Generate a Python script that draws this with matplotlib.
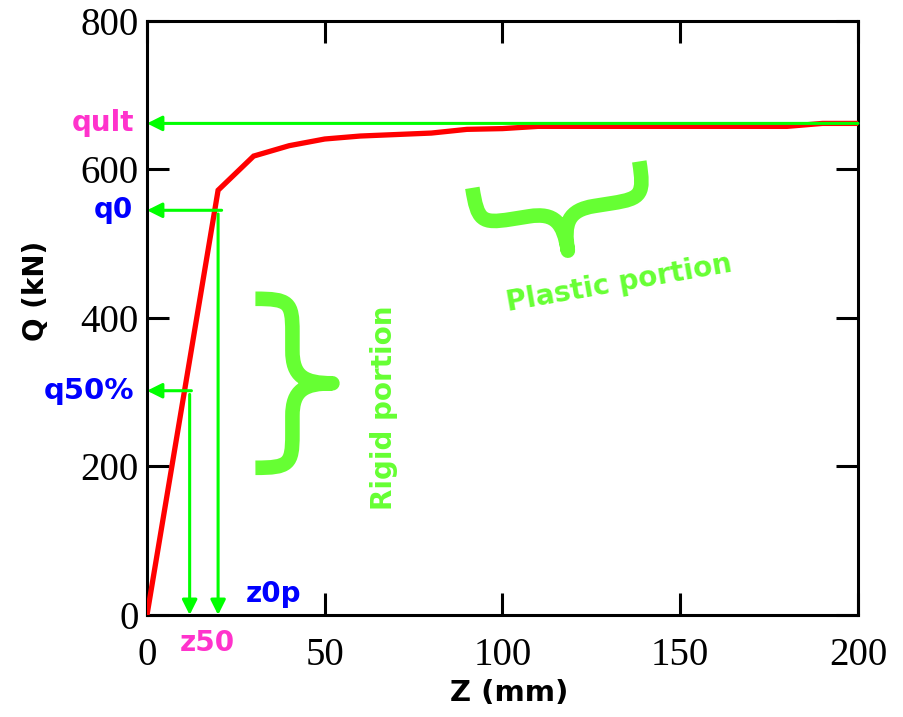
import matplotlib
matplotlib.use('Agg')
import matplotlib.pyplot as plt
from matplotlib.path import Path
from matplotlib.patches import PathPatch
from matplotlib.transforms import Affine2D, ScaledTranslation, blended_transform_factory

# ---- data ----
z_mm = [0, 20, 30, 40, 50, 60, 70, 80, 90, 100, 110, 120, 130, 140, 150, 160, 170, 180, 190, 200]
q_kn = [0, 572, 618, 632, 641, 645, 647, 649, 654, 655, 658, 658, 658, 658, 658, 658, 658, 658, 662, 662]
x_ticks = [0, 50, 100, 150, 200]
y_ticks = [0, 200, 400, 600, 800]
q_ult = 662
q_0 = 545
q_50 = 302
z_50 = 12
z_0p = 20

RED = '#FF0000'
ARROW_GREEN = '#00FF00'
TEXT_GREEN = '#66FF33'
MAGENTA = '#FF33CC'
BLUE = '#0000FF'

fig = plt.figure(figsize=(9.04, 7.17), dpi=100)
ax = fig.add_axes([0.1626, 0.1423, 0.7865, 0.8285])
ax.set_xlim(0, 200)
ax.set_ylim(0, 800)

ax.plot(z_mm, q_kn, color=RED, lw=3.8, zorder=3, solid_joinstyle='miter')

arrow_kw = dict(arrowstyle='-|>,head_length=0.9,head_width=0.45', color=ARROW_GREEN,
                lw=2.2, shrinkA=0, shrinkB=0)
# horizontal arrows to the Q axis
ax.annotate('', xy=(0, q_ult), xytext=(200, q_ult), arrowprops=arrow_kw, zorder=4,
            annotation_clip=False)
ax.annotate('', xy=(0, q_0), xytext=(z_0p + 1, q_0), arrowprops=arrow_kw, zorder=4)
ax.annotate('', xy=(0, q_50), xytext=(z_50 + 0.5, q_50), arrowprops=arrow_kw, zorder=4)
# vertical arrows to the Z axis
ax.annotate('', xy=(z_50, 0), xytext=(z_50, q_50 - 5), arrowprops=arrow_kw, zorder=4)
ax.annotate('', xy=(z_0p, 0), xytext=(z_0p, q_0 - 5), arrowprops=arrow_kw, zorder=4)

# ---- axes styling ----
ax.set_xticks(x_ticks)
ax.set_yticks(y_ticks)
ax.set_xticklabels([str(v) for v in x_ticks])
ax.set_yticklabels([str(v) for v in y_ticks])
for sp in ax.spines.values():
    sp.set_linewidth(2.2)
ax.tick_params(axis='both', direction='in', length=16, width=2.2, top=True, right=True,
               labelsize=28, colors='black')
ax.tick_params(axis='x', pad=16)
ax.tick_params(axis='y', pad=6)
for lab in ax.get_xticklabels() + ax.get_yticklabels():
    lab.set_fontfamily('Liberation Serif')

ax.set_xlabel('Z (mm)', fontsize=21, fontweight='bold', family='DejaVu Sans')
ax.set_ylabel('Q (kN)', fontsize=20, fontweight='bold', family='DejaVu Sans')
ax.xaxis.set_label_coords(0.51, -0.108)
ax.yaxis.set_label_coords(-0.136, 0.546)

# ---- labels for characteristic points ----
ty = blended_transform_factory(ax.transAxes, ax.transData)
tx = blended_transform_factory(ax.transData, ax.transAxes)
lab_kw = dict(fontweight='bold', family='DejaVu Sans', va='center')
ax.text(-0.018, q_ult, 'qult', transform=ty, ha='right', color=MAGENTA, fontsize=20, **lab_kw)
ax.text(-0.02, q_0, 'q0', transform=ty, ha='right', color=BLUE, fontsize=20, **lab_kw)
ax.text(-0.018, q_50, 'q50%', transform=ty, ha='right', color=BLUE, fontsize=21, **lab_kw)
ax.text(z_50 + 5, -0.047, 'z50', transform=tx, ha='center', color=MAGENTA, fontsize=20, **lab_kw)
ax.text(z_0p + 15.5, 0.035, 'z0p', transform=tx, ha='center', color=BLUE, fontsize=20, **lab_kw)

# ---- braces ----
def brace_path(L, D, s, a):
    h = L / 2.0
    verts = [(0, h), (s * 0.9, h), (s, h - a * 0.1), (s, h - a),
             (s, a),
             (s, a * 0.2), (s + (D - s) * 0.3, 0), (D, 0),
             (s + (D - s) * 0.3, 0), (s, -a * 0.2), (s, -a),
             (s, -h + a),
             (s, -h + a * 0.1), (s * 0.9, -h), (0, -h)]
    codes = [Path.MOVETO, Path.CURVE4, Path.CURVE4, Path.CURVE4,
             Path.LINETO,
             Path.CURVE4, Path.CURVE4, Path.CURVE4,
             Path.CURVE4, Path.CURVE4, Path.CURVE4,
             Path.LINETO,
             Path.CURVE4, Path.CURVE4, Path.CURVE4]
    return Path(verts, codes)

def add_brace(x, y, angle, L=1.69, D=0.77, s=0.37, a=0.33):
    tr = (Affine2D().rotate_deg(angle) + fig.dpi_scale_trans
          + ScaledTranslation(x, y, ax.transData))
    p = PathPatch(brace_path(L, D, s, a), transform=tr, fill=False,
                  edgecolor=TEXT_GREEN, lw=10.5, capstyle='butt', joinstyle='round',
                  clip_on=False, zorder=2)
    fig.add_artist(p)

add_brace(30.5, 312, 0)
add_brace(115, 593, -81)

ax.text(66.7, 279, 'Rigid portion', rotation=90, ha='center', va='center',
        color=TEXT_GREEN, fontsize=20, fontweight='bold', family='DejaVu Sans')
ax.text(132.8, 447, 'Plastic portion', rotation=10, ha='center', va='center',
        color=TEXT_GREEN, fontsize=20, fontweight='bold', family='DejaVu Sans',
        rotation_mode='anchor')

fig.savefig('out.png', dpi=100)
